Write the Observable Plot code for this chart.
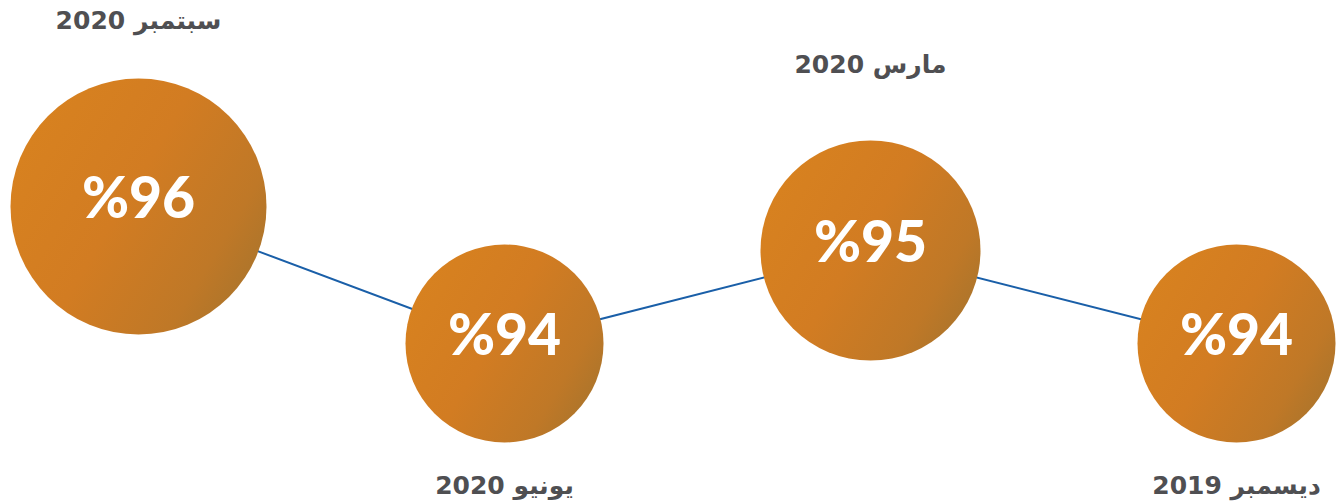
<!DOCTYPE html>
<html>
<head>
<meta charset="utf-8">
<script src="https://cdn.jsdelivr.net/npm/d3@7"></script>
<script src="https://cdn.jsdelivr.net/npm/@observablehq/plot@0.6"></script>
<style>
  html, body { margin: 0; padding: 0; background: #ffffff; }
  #chart { width: 1340px; height: 504px; }
</style>
</head>
<body>
<div id="chart"></div>
<script>
// Data (left to right as in the reference)
const months = ["سبتمبر 2020", "يونيو 2020", "مارس 2020", "ديسمبر 2019"];
const values = [96, 94, 95, 94];

const data = months.map((m, i) => ({ month: m, value: values[i] }));

const pctFont = "Lato, 'DejaVu Sans', sans-serif";
const labelFont = "'DejaVu Sans', Lato, sans-serif";

const plot = Plot.plot({
  width: 1340,
  height: 504,
  marginTop: 0,
  marginBottom: 0,
  marginLeft: 137,
  marginRight: 104,
  x: { type: "point", domain: months, padding: 0, axis: null },
  y: { type: "linear", domain: [94, 95, 96], range: [343, 250, 206], axis: null },
  r: { type: "linear", domain: [94, 95, 96], range: [99, 110, 128] },
  marks: [
    Plot.line(data, { x: "month", y: "value", stroke: "#1a5fa8", strokeWidth: 2 }),
    Plot.dot(data, { x: "month", y: "value", r: "value", fill: "url(#orangeTex)", stroke: "none" }),
    Plot.text(data, {
      x: "month", y: "value", text: d => "%" + d.value,
      dy: -7, fill: "#ffffff", fontSize: 57, fontWeight: 900, fontFamily: pctFont
    }),
    Plot.text(data, {
      filter: (d, i) => i % 2 === 0,
      x: "month", y: "value", text: d => "\u202B" + d.month + "\u202C",
      dy: -186, fill: "#4f4f52", fontSize: 25, fontWeight: 700, fontFamily: labelFont
    }),
    Plot.text(data, {
      filter: (d, i) => i % 2 === 1,
      x: "month", y: "value", text: d => "\u202B" + d.month + "\u202C",
      dy: 142, fill: "#4f4f52", fontSize: 25, fontWeight: 700, fontFamily: labelFont
    })
  ]
});

// gradient approximating the orange mosaic texture
const svgNS = "http://www.w3.org/2000/svg";
const defs = document.createElementNS(svgNS, "defs");
defs.innerHTML = `
  <linearGradient id="orangeTex" x1="0" y1="0.2" x2="1" y2="0.8">
    <stop offset="0" stop-color="#d8821f"/>
    <stop offset="0.45" stop-color="#d27c22"/>
    <stop offset="0.8" stop-color="#bf7827"/>
    <stop offset="1" stop-color="#a8742c"/>
  </linearGradient>`;
plot.insertBefore(defs, plot.firstChild);

document.getElementById("chart").appendChild(plot);
</script>
</body>
</html>
